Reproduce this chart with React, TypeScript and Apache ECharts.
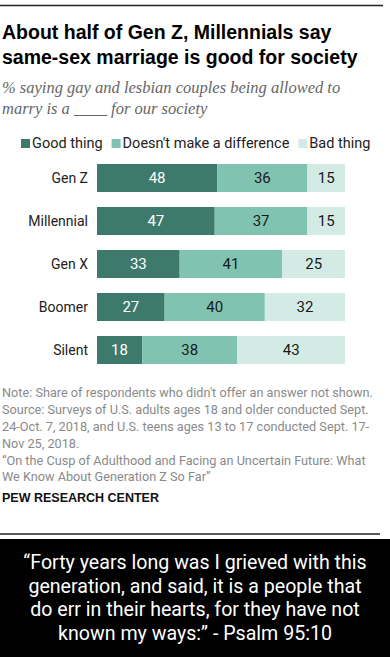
import React, { useEffect, useRef } from "react";
import * as echarts from "echarts";

const categories = ["Gen Z", "Millennial", "Gen X", "Boomer", "Silent"];
const goodThing = [48, 47, 33, 27, 18];
const noDifference = [36, 37, 41, 40, 38];
const badThing = [15, 15, 25, 32, 43];
const seriesNames = ["Good thing", "Doesn't make a difference", "Bad thing"];
const colors = ["#3d7a6b", "#80c3b1", "#d4ebe5"];
const labelColors = ["#ffffff", "#1a1a1a", "#1a1a1a"];

const titleText = "About half of Gen Z, Millennials say\nsame-sex marriage is good for society";
const subtitleText = "% saying gay and lesbian couples being allowed to\nmarry is a ____ for our society";
const noteText = [
  "Note: Share of respondents who didn't offer an answer not shown.",
  "Source: Surveys of U.S. adults ages 18 and older conducted Sept.",
  "24-Oct. 7, 2018, and U.S. teens ages 13 to 17 conducted Sept. 17-",
  "Nov 25, 2018.",
  "\u201COn the Cusp of Adulthood and Facing an Uncertain Future: What",
  "We Know About Generation Z So Far\u201D",
].join("\n");
const sourceText = "PEW RESEARCH CENTER";
const quoteText = [
  "\u201CForty years long was I grieved with this",
  "generation, and said, it is a people that",
  "do err in their hearts, for they have not",
  "known my ways:\u201D - Psalm 95:10",
].join("\n");

const SANS = "Roboto, 'Liberation Sans', sans-serif";

export default function App() {
  const ref = useRef<HTMLDivElement>(null);
  useEffect(() => {
    if (!ref.current) return;
    const chart = echarts.init(ref.current, null, { renderer: "svg" });
    const data = [goodThing, noDifference, badThing];
    chart.setOption({
      animation: false,
      backgroundColor: "#ffffff",
      textStyle: { fontFamily: SANS },
      legend: {
        data: seriesNames,
        left: 16,
        top: 131,
        icon: "rect",
        itemWidth: 9,
        itemHeight: 9,
        itemGap: 9,
        textStyle: { fontSize: 14.5, color: "#222", padding: [0, 0, 0, -3] },
        selectedMode: false,
      },
      grid: { left: 97, right: 45, top: 156.5, height: 215, containLabel: false },
      xAxis: { type: "value", min: 0, max: 99, show: false },
      yAxis: {
        type: "category",
        data: categories,
        inverse: true,
        axisLine: { show: false },
        axisTick: { show: false },
        axisLabel: { fontSize: 14, color: "#222", margin: 9 },
      },
      series: data.map((d, i) => ({
        name: seriesNames[i],
        type: "bar",
        stack: "total",
        barWidth: 28,
        data: d,
        itemStyle: { color: colors[i] },
        label: {
          show: true,
          position: "inside",
          fontSize: 15,
          color: labelColors[i],
        },
      })),
      graphic: [
        { type: "line", shape: { x1: 0, y1: 5.5, x2: 383, y2: 5.5 }, style: { stroke: "#222", lineWidth: 1.5 } },
        {
          type: "text",
          x: 2,
          y: 19.5,
          style: { text: titleText, font: "bold 19.5px 'Liberation Sans', Arial, sans-serif", fill: "#000", lineHeight: 25 },
        },
        {
          type: "text",
          x: 2,
          y: 76.5,
          style: { text: subtitleText, font: "italic 16.5px 'Liberation Serif', Georgia, serif", fill: "#666", lineHeight: 21 },
        },
        {
          type: "text",
          x: 2,
          y: 384.6,
          style: { text: noteText, font: "12.7px " + SANS, fill: "#8a8a8a", lineHeight: 16.8 },
        },
        {
          type: "text",
          x: 2,
          y: 491,
          style: { text: sourceText, font: "bold 12.5px 'Liberation Sans', Arial, sans-serif", fill: "#111", lineHeight: 14 },
        },
        { type: "line", shape: { x1: 0, y1: 534, x2: 380, y2: 534 }, style: { stroke: "#222", lineWidth: 1.5 } },
        { type: "rect", shape: { x: 0, y: 539, width: 390, height: 118 }, style: { fill: "#000" } },
        {
          type: "text",
          x: 195,
          y: 551,
          style: { text: quoteText, font: "19.6px Roboto, sans-serif", fill: "#fff", lineHeight: 23.5, align: "center", textAlign: "center" },
        },
      ],
    });
    return () => chart.dispose();
  }, []);
  return <div ref={ref} style={{ position: "fixed", left: 0, top: 0, width: 390, height: 657 }} />;
}
